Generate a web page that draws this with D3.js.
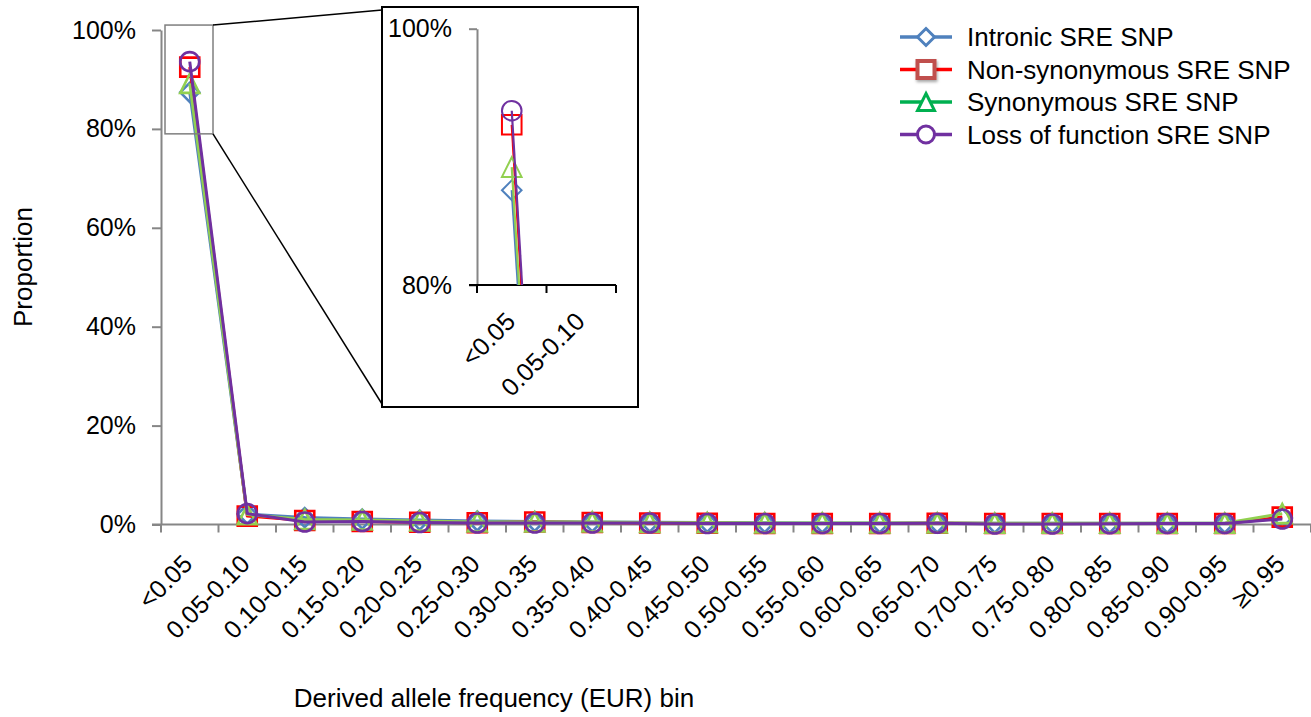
<!DOCTYPE html>
<html>
<head>
<meta charset="utf-8">
<script src="https://cdn.jsdelivr.net/npm/d3@7"></script>
<style>
  html, body { margin: 0; padding: 0; background: #fff; }
  svg { display: block; font-family: "Liberation Sans", Arial, sans-serif; }
</style>
</head>
<body>
<script>
// Derived allele frequency bins (EUR)
const categories = ["<0.05", "0.05-0.10", "0.10-0.15", "0.15-0.20", "0.20-0.25",
  "0.25-0.30", "0.30-0.35", "0.35-0.40", "0.40-0.45", "0.45-0.50", "0.50-0.55",
  "0.55-0.60", "0.60-0.65", "0.65-0.70", "0.70-0.75", "0.75-0.80", "0.80-0.85",
  "0.85-0.90", "0.90-0.95", "≥0.95"];

// Proportion of SNPs in each bin (percent)
const intronic = [87.4, 2.1, 1.4, 1.1, 0.9, 0.7, 0.6, 0.5, 0.45, 0.4, 0.35, 0.3, 0.3, 0.3, 0.25, 0.25, 0.25, 0.25, 0.25, 1.3];
const nonSynonymous = [92.5, 1.7, 0.8, 0.6, 0.45, 0.35, 0.5, 0.4, 0.3, 0.25, 0.2, 0.2, 0.2, 0.25, 0.2, 0.2, 0.2, 0.2, 0.2, 1.5];
const synonymous = [89.2, 2.0, 1.0, 0.9, 0.7, 0.5, 0.5, 0.5, 0.4, 0.35, 0.3, 0.3, 0.3, 0.3, 0.25, 0.25, 0.25, 0.25, 0.25, 2.2];
const lossOfFunction = [93.6, 2.2, 0.5, 0.6, 0.4, 0.3, 0.3, 0.3, 0.3, 0.2, 0.2, 0.2, 0.2, 0.25, 0.1, 0.1, 0.15, 0.2, 0.2, 1.1];

const seriesNames = ["Intronic SRE SNP", "Non-synonymous SRE SNP", "Synonymous SRE SNP", "Loss of function SRE SNP"];
const yTicks = [0, 20, 40, 60, 80, 100];
const insetTicks = [80, 100];

const series = [
  { name: seriesNames[0], values: intronic, shape: "diamond", line: "#4F81BD", marker: "#4F81BD", legendLine: "#4F81BD", legendMarker: "#4F81BD" },
  { name: seriesNames[1], values: nonSynonymous, shape: "square", line: "#FF0000", marker: "#FF0000", legendLine: "#FF0000", legendMarker: "#C0504D" },
  { name: seriesNames[2], values: synonymous, shape: "triangle", line: "#92D050", marker: "#92D050", legendLine: "#00B050", legendMarker: "#00B050" },
  { name: seriesNames[3], values: lossOfFunction, shape: "circle", line: "#7030A0", marker: "#7030A0", legendLine: "#7030A0", legendMarker: "#7030A0" }
];

const W = 1311, H = 717;
const svg = d3.select("body").append("svg").attr("width", W).attr("height", H);

const defs = svg.append("defs");
const shadow = defs.append("filter").attr("id", "mshadow").attr("x", "-50%").attr("y", "-50%").attr("width", "200%").attr("height", "200%");
shadow.append("feDropShadow").attr("dx", 1).attr("dy", 2).attr("stdDeviation", 1.5).attr("flood-color", "#000").attr("flood-opacity", 0.35);

// Marker path generator, centred on (0,0), r = half extent
function markerPath(shape, r) {
  switch (shape) {
    case "diamond": return `M0,${-r}L${r},0L0,${r}L${-r},0Z`;
    case "square": return `M${-r},${-r}H${r}V${r}H${-r}Z`;
    case "triangle": return `M0,${-r}L${r},${r}L${-r},${r}Z`;
    default: { const p = d3.path(); p.arc(0, 0, r, 0, 2 * Math.PI); p.closePath(); return p.toString(); }
  }
}

const AXIS_GREY = "#868686";

// ---------- main chart ----------
const x = d3.scaleBand().domain(categories).range([161, 1311]);
const y = d3.scaleLinear().domain([0, 100]).range([524.5, 30]);
const cx = c => x(c) + x.bandwidth() / 2;

// y axis
const yAxis = svg.append("g").attr("transform", "translate(161,0)")
  .call(d3.axisLeft(y).tickValues(yTicks).tickSize(9).tickSizeOuter(0).tickPadding(16).tickFormat(d => d + "%"));
yAxis.select(".domain").attr("stroke", AXIS_GREY).attr("stroke-width", 2);
yAxis.selectAll(".tick line").attr("stroke", AXIS_GREY).attr("stroke-width", 2);
yAxis.selectAll(".tick text").attr("font-size", 25).attr("fill", "#000")
  .attr("font-family", "Liberation Sans, Arial, sans-serif");

// x axis: line with tick marks between categories
const xAxis = svg.append("g").attr("transform", `translate(0,${y(0)})`);
xAxis.append("line").attr("x1", 152).attr("x2", 1311).attr("stroke", AXIS_GREY).attr("stroke-width", 2);
const boundaries = categories.map(c => x(c)).concat([x.range()[1]]);
xAxis.selectAll("line.tk").data(boundaries).join("line").attr("class", "tk")
  .attr("x1", d => d).attr("x2", d => d).attr("y1", 0).attr("y2", 8)
  .attr("stroke", AXIS_GREY).attr("stroke-width", 2);
xAxis.selectAll("text").data(categories).join("text")
  .attr("transform", d => `translate(${cx(d) + 4},${41}) rotate(-45)`)
  .attr("text-anchor", "end").attr("font-size", 25).attr("fill", "#000")
  .text(d => d);

// axis titles
svg.append("text").attr("x", 494).attr("y", 707).attr("text-anchor", "middle")
  .attr("font-size", 26).attr("fill", "#000").text("Derived allele frequency (EUR) bin");
svg.append("text").attr("transform", "translate(32,267) rotate(-90)").attr("text-anchor", "middle")
  .attr("font-size", 26).attr("fill", "#000").text("Proportion");

// series
function drawSeries(g, xs, ys, lineW, markerR, markerW) {
  series.forEach(s => {
    const pts = categories.map((c, i) => [xs(c), ys(s.values[i])]);
    g.append("path").attr("d", d3.line()(pts)).attr("fill", "none")
      .attr("stroke", s.line).attr("stroke-width", lineW).attr("stroke-linejoin", "round");
    g.selectAll(null).data(pts).join("path")
      .attr("transform", p => `translate(${p[0]},${p[1]})`)
      .attr("d", markerPath(s.shape, markerR))
      .attr("fill", "none").attr("stroke", s.marker).attr("stroke-width", markerW);
  });
}
drawSeries(svg.append("g"), cx, y, 3, 9.5, 2.6);

// zoom frame around the first bin and connectors to the inset
const zx0 = 165, zx1 = 213, zy0 = y(101), zy1 = y(79);
svg.append("rect").attr("x", zx0).attr("y", zy0).attr("width", zx1 - zx0).attr("height", zy1 - zy0)
  .attr("fill", "none").attr("stroke", "#7f7f7f").attr("stroke-width", 1.5);
svg.append("line").attr("x1", zx1).attr("y1", zy0).attr("x2", 382).attr("y2", 10).attr("stroke", "#000").attr("stroke-width", 1.5);
svg.append("line").attr("x1", zx1).attr("y1", zy1).attr("x2", 382).attr("y2", 404).attr("stroke", "#000").attr("stroke-width", 1.5);

// ---------- inset (first two bins, 80%-100%) ----------
const inset = svg.append("g");
inset.append("rect").attr("x", 382).attr("y", 7).attr("width", 256).attr("height", 400)
  .attr("fill", "#fff").attr("stroke", "#000").attr("stroke-width", 2);

const insetCats = categories.slice(0, 2);
const ix = d3.scaleBand().domain(insetCats).range([477, 616]);
const iy = d3.scaleLinear().domain([80, 100]).range([285, 28.7]);
const icx = c => ix(c) + ix.bandwidth() / 2;

const iyAxis = inset.append("g").attr("transform", "translate(477,0)")
  .call(d3.axisLeft(iy).tickValues(insetTicks).tickSize(8).tickSizeOuter(0).tickPadding(17).tickFormat(d => d + "%"));
iyAxis.select(".domain").attr("stroke", AXIS_GREY).attr("stroke-width", 2);
iyAxis.selectAll(".tick line").attr("stroke", AXIS_GREY).attr("stroke-width", 2);
iyAxis.selectAll(".tick text").attr("font-size", 25).attr("fill", "#000")
  .attr("font-family", "Liberation Sans, Arial, sans-serif");

const ixAxis = inset.append("g").attr("transform", `translate(0,${iy(80)})`);
ixAxis.append("line").attr("x1", 469).attr("x2", 616).attr("stroke", "#000").attr("stroke-width", 2);
const iBounds = insetCats.map(c => ix(c)).concat([ix.range()[1]]);
ixAxis.selectAll("line.tk").data(iBounds).join("line").attr("class", "tk")
  .attr("x1", d => d).attr("x2", d => d).attr("y1", 0).attr("y2", 8)
  .attr("stroke", "#000").attr("stroke-width", 2);
ixAxis.selectAll("text").data(insetCats).join("text")
  .attr("transform", d => `translate(${icx(d) + 5},${38}) rotate(-45)`)
  .attr("text-anchor", "end").attr("font-size", 25).attr("fill", "#000")
  .text(d => d);

defs.append("clipPath").attr("id", "insetClip").append("rect")
  .attr("x", 477).attr("y", iy(100)).attr("width", 616 - 477).attr("height", iy(80) - iy(100));

// inset lines are clipped to the plot area, markers only for the first bin
const insetPlot = inset.append("g");
series.forEach(s => {
  const pts = [[icx(insetCats[0]), iy(s.values[0])], [icx(insetCats[1]), iy(s.values[1])]];
  insetPlot.append("path").attr("d", d3.line()(pts)).attr("fill", "none")
    .attr("clip-path", "url(#insetClip)")
    .attr("stroke", s.line).attr("stroke-width", 2.2);
  insetPlot.append("path")
    .attr("transform", `translate(${pts[0][0]},${pts[0][1]})`)
    .attr("d", markerPath(s.shape, 9.8))
    .attr("fill", "none").attr("stroke", s.marker).attr("stroke-width", 2);
});

// ---------- legend ----------
const legend = svg.append("g");
series.forEach((s, i) => {
  const ly = 37 + i * 32.5;
  legend.append("line").attr("x1", 900).attr("x2", 952).attr("y1", ly).attr("y2", ly)
    .attr("stroke", s.legendLine).attr("stroke-width", 3.5);
  legend.append("path").attr("transform", `translate(926,${ly})`)
    .attr("d", markerPath(s.shape, 8.5))
    .attr("fill", "#fff").attr("stroke", s.legendMarker)
    .attr("stroke-width", s.shape === "square" ? 4 : 3)
    .attr("filter", s.shape === "square" ? "url(#mshadow)" : null);
  legend.append("text").attr("x", 967).attr("y", ly).attr("dy", "0.36em")
    .attr("font-size", 26).attr("fill", "#000").text(s.name);
});
</script>
</body>
</html>
